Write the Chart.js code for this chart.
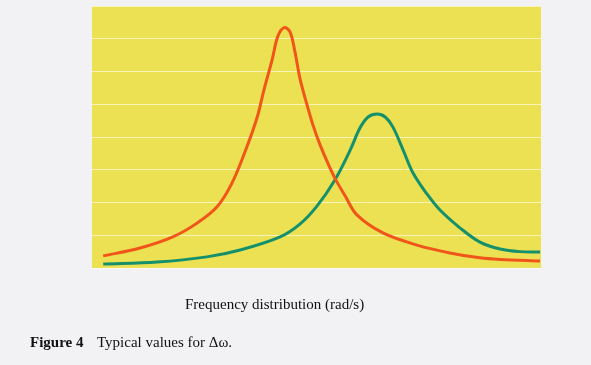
<!DOCTYPE html>
<html>
<head>
<meta charset="utf-8">
<script src="https://cdn.jsdelivr.net/npm/chart.js@4/dist/chart.umd.min.js"></script>
<style>
  html, body { margin: 0; padding: 0; background: #f2f2f4; }
  #wrap { position: relative; width: 591px; height: 365px; }
  #chart { position: absolute; left: 0; top: 0; }
  .txt { position: absolute; font-family: "Liberation Serif", "DejaVu Serif", serif; color: #111; white-space: nowrap; }
  #xlabel { left: 185px; top: 296px; font-size: 15px; }
  #fig { left: 30px; top: 334px; font-size: 15px; font-weight: bold; }
  #caption { left: 97px; top: 334px; font-size: 15px; }
</style>
</head>
<body>
<div id="wrap">
  <canvas id="chart" width="591" height="365"></canvas>
  <div class="txt" id="xlabel">Frequency distribution (rad/s)</div>
  <div class="txt" id="fig">Figure 4</div>
  <div class="txt" id="caption">Typical values for &Delta;&omega;.</div>
</div>
<script>
// curve samples (x: frequency, arbitrary units 0-10; y: grid units 0-8)
const orangeX = [0.25, 1.07, 1.80, 2.34, 2.78, 3.12, 3.45, 3.68, 3.83, 4.01, 4.14, 4.28, 4.41, 4.52, 4.63, 4.77, 4.92, 5.08, 5.26, 5.43, 5.64, 5.90, 6.48, 7.24, 7.97, 8.64, 9.09, 9.98];
const orangeY = [0.37, 0.61, 0.95, 1.37, 1.86, 2.60, 3.70, 4.61, 5.44, 6.35, 7.08, 7.34, 7.21, 6.60, 5.80, 5.07, 4.37, 3.76, 3.18, 2.69, 2.20, 1.62, 1.07, 0.70, 0.46, 0.31, 0.26, 0.21];
const greenX = [0.25, 1.45, 2.56, 3.30, 4.19, 4.63, 5.01, 5.41, 5.75, 5.97, 6.15, 6.35, 6.53, 6.70, 6.93, 7.15, 7.46, 7.75, 8.20, 8.64, 9.09, 9.53, 9.98];
const greenY = [0.12, 0.18, 0.34, 0.55, 0.95, 1.34, 1.89, 2.69, 3.60, 4.28, 4.61, 4.70, 4.61, 4.31, 3.60, 2.90, 2.26, 1.77, 1.22, 0.79, 0.58, 0.50, 0.49];
const xMin = 0, xMax = 10;
const yMin = 0, yMax = 8;

function toPoints(xs, ys) {
  return xs.map((x, i) => ({ x: x, y: ys[i] }));
}

// yellow plot background
const plotBg = {
  id: "plotBg",
  beforeDraw(chart) {
    const a = chart.chartArea;
    const ctx = chart.ctx;
    ctx.save();
    ctx.fillStyle = "#ece152";
    ctx.fillRect(a.left, a.top, a.right - a.left, a.bottom - a.top);
    ctx.restore();
  }
};

const ctx = document.getElementById("chart").getContext("2d");
new Chart(ctx, {
  type: "scatter",
  data: {
    datasets: [
      {
        data: toPoints(orangeX, orangeY),
        showLine: true,
        borderColor: "#f0561a",
        borderWidth: 3,
        pointRadius: 0,
        tension: 0.35
      },
      {
        data: toPoints(greenX, greenY),
        showLine: true,
        borderColor: "#14906c",
        borderWidth: 3,
        pointRadius: 0,
        tension: 0.35
      }
    ]
  },
  options: {
    responsive: false,
    animation: false,
    layout: { padding: { left: 92, right: 50, top: 6, bottom: 97 } },
    plugins: { legend: { display: false }, tooltip: { enabled: false } },
    scales: {
      x: { type: "linear", min: xMin, max: xMax, display: false },
      y: {
        min: yMin, max: yMax,
        ticks: { display: false, stepSize: 1 },
        border: { display: false },
        grid: { color: "rgba(255,255,255,0.6)", lineWidth: 1, drawTicks: false }
      }
    }
  },
  plugins: [plotBg]
});
</script>
</body>
</html>
